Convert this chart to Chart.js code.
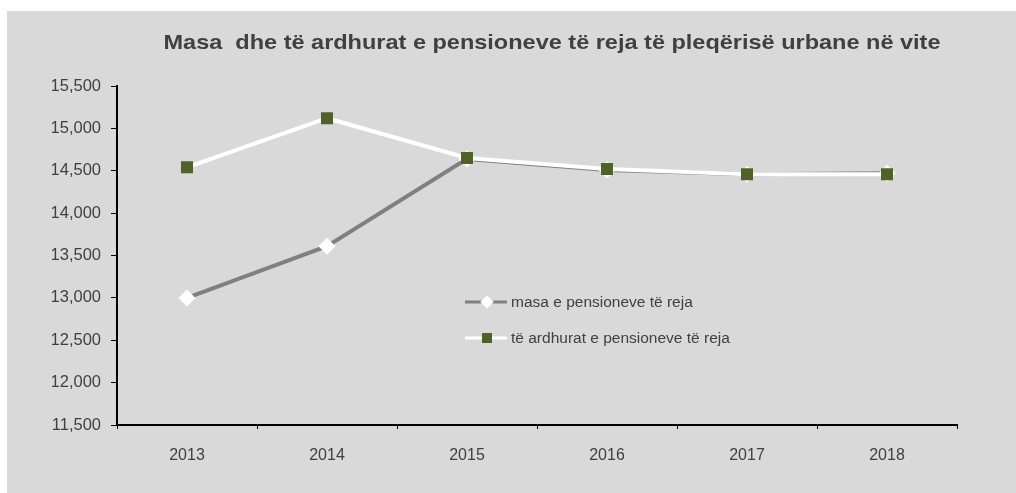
<!DOCTYPE html>
<html>
<head>
<meta charset="utf-8">
<script src="https://cdn.jsdelivr.net/npm/chart.js@4"></script>
<style>
body{margin:0;background:#fff;}
#box{position:absolute;left:7px;top:11px;width:1009px;height:482px;background:#d9d9d9;}
</style>
</head>
<body>
<div id="box"><canvas id="chart" width="1009" height="482"></canvas></div>
<script>
// data
const years=["2013","2014","2015","2016","2017","2018"];
const masa=[13000,13610,14640,14510,14460,14470];
const ardhurat=[14540,15120,14650,14520,14460,14460];
const seriesNames=["masa e pensioneve të reja","të ardhurat e pensioneve të reja"];
const titleText="Masa  dhe të ardhurat e pensioneve të reja të pleqërisë urbane në vite";

const txt="#404040";
const font="'Liberation Sans', Arial, sans-serif";

// title + in-plot legend
const extras={
id:"extras",
afterDraw(chart){
const c=chart.ctx;
c.save();
c.fillStyle=txt;
c.font="bold 21px "+font;
c.textBaseline="middle";
c.textAlign="center";
let w=c.measureText(titleText).width;
let want=777;
c.translate(545,32);
c.scale(want/w,1);
c.fillText(titleText,0,0);
c.restore();

const rows=[
{y:291,line:"#808080",style:"rectRot",fill:"#ffffff",r:6.5},
{y:327,line:"#ffffff",style:"rect",fill:"#4f6228",r:7}
];
c.save();
rows.forEach((row,i)=>{
c.strokeStyle=row.line;
c.lineWidth=3;
c.beginPath();
c.moveTo(458,row.y);
c.lineTo(500,row.y);
c.stroke();
c.fillStyle=row.fill;
Chart.helpers.drawPoint(c,{pointStyle:row.style,radius:row.r,borderWidth:0},480,row.y);
c.fill();
c.fillStyle=txt;
c.font="15.5px "+font;
c.textAlign="left";
c.textBaseline="middle";
c.fillText(seriesNames[i],504,row.y+1);
});
c.restore();
}
};

new Chart(document.getElementById("chart"),{
type:"line",
data:{
labels:years,
datasets:[
{
label:seriesNames[0],
data:masa,
borderColor:"#808080",
borderWidth:4,
pointStyle:"rectRot",
pointRadius:8.5,
pointBackgroundColor:"#ffffff",
pointBorderWidth:0,
order:1,
tension:0
},
{
label:seriesNames[1],
data:ardhurat,
borderColor:"#ffffff",
borderWidth:4,
pointStyle:"rect",
pointRadius:8.5,
pointBackgroundColor:"#4f6228",
pointBorderWidth:0,
order:0,
tension:0
}
]
},
options:{
responsive:false,
animation:false,
events:[],
layout:{padding:{top:75,left:45,right:59,bottom:0}},
plugins:{legend:{display:false},title:{display:false},tooltip:{enabled:false}},
scales:{
x:{
offset:true,
grid:{offset:true,drawOnChartArea:false,drawTicks:true,tickLength:4,color:"#000",lineWidth:1},
border:{color:"#000",width:2},
ticks:{color:txt,font:{family:font,size:16},padding:17,maxRotation:0},
afterFit(s){s.height=68;}
},
y:{
min:11500,
max:15500,
grid:{drawOnChartArea:false,drawTicks:true,tickLength:6,color:"#000",lineWidth:1},
border:{color:"#000",width:2},
ticks:{
stepSize:500,
color:txt,
font:{family:font,size:16.5},
padding:10,
callback:v=>v.toLocaleString("en-US")
},
afterFit(s){s.width=65;}
}
}
},
plugins:[extras]
});
</script>
</body>
</html>
